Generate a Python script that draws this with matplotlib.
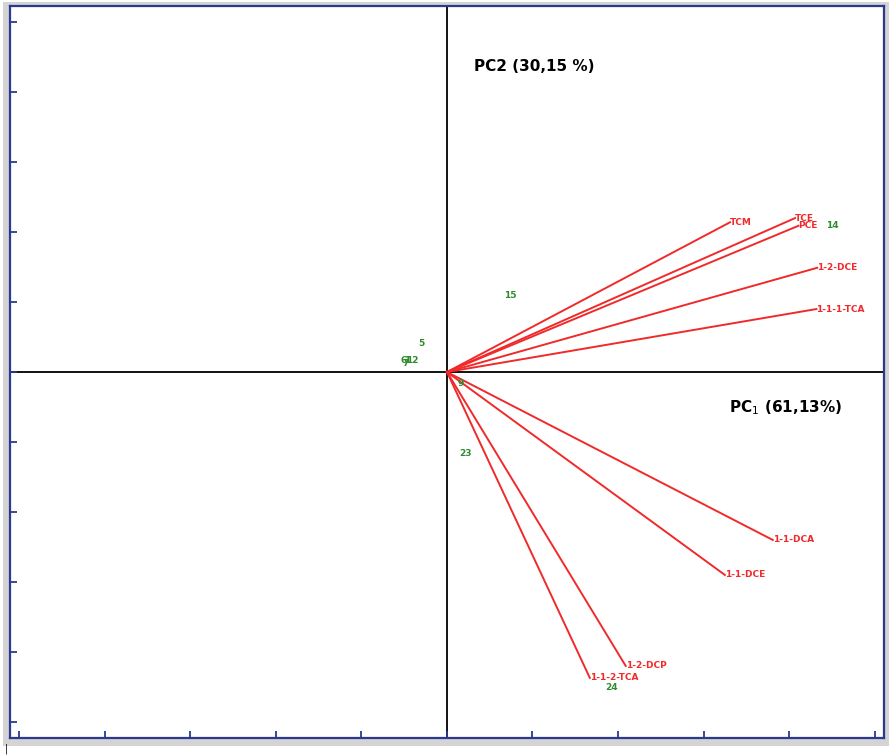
import matplotlib
matplotlib.use("Agg")
import matplotlib.pyplot as plt
from matplotlib.patches import Rectangle

# loadings (variables) on PC1 / PC2
variables = ["TCM", "TCE", "PCE", "1-2-DCE", "1-1-1-TCA",
             "1-1-DCA", "1-1-DCE", "1-2-DCP", "1-1-2-TCA"]
load_pc1 = [3.31, 4.07, 4.11, 4.33, 4.32, 3.81, 3.25, 2.09, 1.67]
load_pc2 = [2.14, 2.20, 2.09, 1.49, 0.90, -2.40, -2.90, -4.20, -4.37]

# sample scores
samples = ["14", "15", "5", "6", "1", "12", "7", "9", "23", "24"]
score_pc1 = [4.51, 0.74, -0.30, -0.51, -0.47, -0.40, -0.49, 0.16, 0.22, 1.92]
score_pc2 = [2.09, 1.09, 0.41, 0.16, 0.17, 0.17, 0.12, -0.17, -1.16, -4.51]

ticks = [-5, -4, -3, -2, -1, 0, 1, 2, 3, 4, 5]

red = "#f02a2a"
green = "#2e8b2e"
blue = "#2b3990"

fig = plt.figure(figsize=(8.92, 7.55), dpi=100)
# soft grey shadow round the frame
fig.patches.append(Rectangle((0.003, 0.012), 0.994, 0.985, transform=fig.transFigure,
                             facecolor="#d4d4d4", edgecolor="none", zorder=-5))
ax = fig.add_axes([0.0112, 0.0225, 0.9798, 0.9695])
ax.set_zorder(2)
ax.set_xlim(-5.11, 5.11)
ax.set_ylim(-5.23, 5.23)

ax.axhline(0, color="black", lw=1.3, zorder=1)
ax.axvline(0, color="black", lw=1.3, zorder=1)

for name, x, y in zip(variables, load_pc1, load_pc2):
    ax.plot([0, x], [0, y], color=red, lw=1.4, zorder=2)
    ax.text(x, y, name, color=red, fontsize=6.5, fontweight="bold",
            ha="left", va="center", zorder=3)

for name, x, y in zip(samples, score_pc1, score_pc2):
    ax.text(x, y, name, color=green, fontsize=6.5, fontweight="bold",
            ha="center", va="center", zorder=3)

ax.text(0.32, 4.37, "PC2 (30,15 %)", fontsize=11, fontweight="bold",
        ha="left", va="center")
ax.text(3.30, -0.51, "PC$_1$ (61,13%)", fontsize=11, fontweight="bold",
        ha="left", va="center")

ax.set_xticks(ticks)
ax.set_yticks(ticks)
ax.tick_params(direction="in", length=5, width=1.3, color=blue,
               labelbottom=False, labelleft=False, top=False, right=False)
for s in ax.spines.values():
    s.set_color(blue)
    s.set_linewidth(1.6)

fig.text(0.005, 0.005, "|", fontsize=7, color="black")

fig.savefig("out.png", dpi=100)
